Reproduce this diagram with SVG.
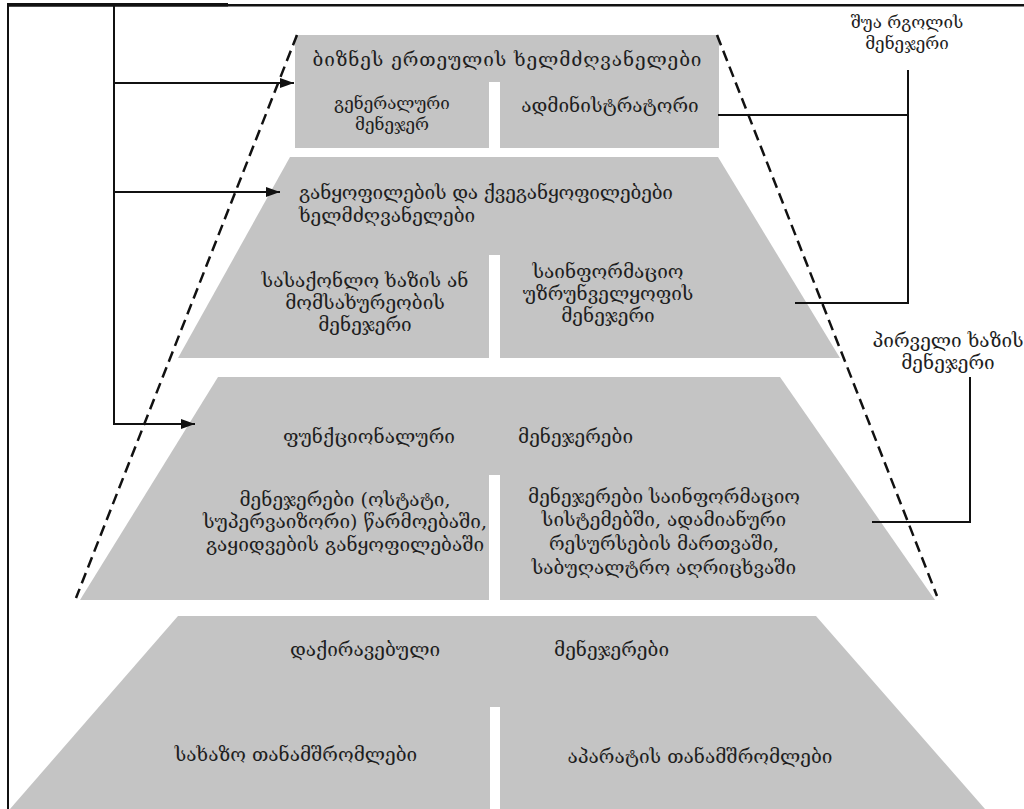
<svg xmlns="http://www.w3.org/2000/svg" width="1024" height="809" viewBox="0 0 1024 809">
<style>
.tier{fill:#c4c4c4;stroke:none}
.gap{fill:#ffffff}
.t{font-family:"DejaVu Serif","DejaVu Sans",serif;font-size:19px;fill:#1e1e1e}
.s{font-size:17px}
.c{text-anchor:middle}
.ln{stroke:#111;stroke-width:2;fill:none}
.dash{stroke:#111;stroke-width:2.5;fill:none;stroke-dasharray:11 6}
</style>
<defs>
<marker id="arr" viewBox="0 0 14 10" refX="14" refY="5" markerWidth="14" markerHeight="10" markerUnits="userSpaceOnUse" orient="auto">
<path d="M0,0 L14,5 L0,10 Z" fill="#111"/>
</marker>
</defs>
<rect width="1024" height="809" fill="#ffffff"/>
<g id="frame">
<rect x="8" y="4" width="1016" height="2.5" fill="#111"/>
<rect x="8" y="3" width="220" height="3.5" fill="#111"/>
<rect x="7" y="3" width="2" height="806" fill="#111"/>
</g>
<g id="tier1">
<rect class="tier" x="295" y="35" width="424" height="113"/>
<rect class="gap" x="489" y="82" width="11" height="66"/>
<text class="t c" x="507" y="66" textLength="389">ბიზნეს ერთეულის ხელმძღვანელები</text>
<text class="t s c" x="392" y="109">გენერალური</text>
<text class="t s c" x="392" y="130">მენეჯერ</text>
<text class="t c" x="610" y="112">ადმინისტრატორი</text>
</g>
<g id="tier2">
<polygon class="tier" points="290,157 718,157 840,358 178,358"/>
<rect class="gap" x="489" y="255" width="11" height="103"/>
<text class="t" x="299" y="199" textLength="374">განყოფილების და ქვეგანყოფილებები</text>
<text class="t" x="299" y="222">ხელმძღვანელები</text>
<text class="t c" x="365" y="287">სასაქონლო ხაზის ან</text>
<text class="t c" x="365" y="309">მომსახურეობის</text>
<text class="t c" x="365" y="331">მენეჯერი</text>
<text class="t c" x="608" y="278">საინფორმაციო</text>
<text class="t c" x="608" y="300">უზრუნველყოფის</text>
<text class="t c" x="608" y="322">მენეჯერი</text>
</g>
<g id="tier3">
<polygon class="tier" points="218,377 780,377 935,600 80,600"/>
<rect class="gap" x="489" y="475" width="11" height="125"/>
<text class="t" y="443"><tspan x="283" textLength="172">ფუნქციონალური</tspan><tspan x="518">მენეჯერები</tspan></text>
<text class="t c" x="345" y="506">მენეჯერები (ოსტატი,</text>
<text class="t c" x="345" y="528">სუპერვაიზორი) წარმოებაში,</text>
<text class="t c" x="345" y="551">გაყიდვების განყოფილებაში</text>
<text class="t c" x="664" y="503">მენეჯერები საინფორმაციო</text>
<text class="t c" x="664" y="526">სისტემებში, ადამიანური</text>
<text class="t c" x="664" y="550">რესურსების მართვაში,</text>
<text class="t c" x="664" y="574">საბუღალტრო აღრიცხვაში</text>
</g>
<g id="tier4">
<polygon class="tier" points="178,616 816,616 985,809 10,809"/>
<rect class="gap" x="490" y="707" width="10" height="102"/>
<text class="t" y="656"><tspan x="290">დაქირავებული</tspan><tspan x="554">მენეჯერები</tspan></text>
<text class="t c" x="296" y="761">სახაზო თანამშრომლები</text>
<text class="t c" x="700" y="763">აპარატის თანამშრომლები</text>
</g>
<g id="outline">
<line class="dash" x1="297" y1="35" x2="76" y2="598"/>
<line class="dash" x1="717" y1="35" x2="937" y2="596"/>
</g>
<g id="label-middle">
<text class="t s c" x="907" y="28">შუა რგოლის</text>
<text class="t s c" x="907" y="49">მენეჯერი</text>
</g>
<g id="label-first">
<text class="t c" x="948" y="347">პირველი ხაზის</text>
<text class="t c" x="948" y="369">მენეჯერი</text>
</g>
<g id="connectors">
<line class="ln" x1="114" y1="4" x2="114" y2="425"/>
<line class="ln" x1="114" y1="83" x2="294" y2="83" marker-end="url(#arr)"/>
<line class="ln" x1="114" y1="192" x2="280" y2="192" marker-end="url(#arr)"/>
<line class="ln" x1="113" y1="424" x2="195" y2="424" marker-end="url(#arr)"/>
<polyline class="ln" points="718,115 908,115 908,70"/>
<polyline class="ln" points="908,115 908,303 795,303"/>
<polyline class="ln" points="970,377 970,522 872,522"/>
</g>
</svg>
